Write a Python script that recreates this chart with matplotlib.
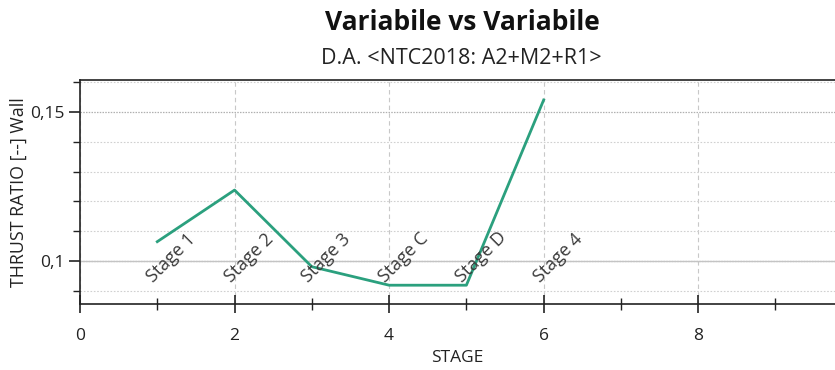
import matplotlib
matplotlib.use("Agg")
import matplotlib.pyplot as plt
from matplotlib.ticker import MultipleLocator, FuncFormatter

plt.rcParams['font.family'] = ['Open Sans', 'Noto Sans', 'DejaVu Sans']

stages = [1, 2, 3, 4, 5, 6]
stage_labels = ["Stage 1", "Stage 2", "Stage 3", "Stage C", "Stage D", "Stage 4"]
thrust_ratio = [0.1065, 0.1238, 0.0981, 0.0919, 0.0919, 0.1540]
reference_ratio = 0.1

title = "Variabile vs Variabile"
subtitle = "D.A. <NTC2018: A2+M2+R1>"
xlabel = "STAGE"
ylabel = "THRUST RATIO [--] Wall"

fig = plt.figure(figsize=(8.35, 3.7), dpi=100)
ax = fig.add_axes([80/835, 1 - 304/370, 1 - 80/835, (304 - 80)/370])

ax.plot(stages, thrust_ratio, color="#2ba07e", lw=2.0, zorder=3)

ax.set_xlim(0, 9.77)
ax.set_ylim(0.0856, 0.1607)

ax.xaxis.set_major_locator(MultipleLocator(2))
ax.xaxis.set_minor_locator(MultipleLocator(1))
ax.yaxis.set_major_locator(MultipleLocator(0.05))
ax.yaxis.set_minor_locator(MultipleLocator(0.01))
ax.yaxis.set_major_formatter(FuncFormatter(lambda v, p: ("%g" % round(v, 4)).replace(".", ",")))

ax.grid(which="major", axis="x", color="#c8c8c8", ls=(0, (4, 3)), lw=0.8)
ax.grid(which="major", axis="y", color="#b0b0b0", ls=(0, (1.2, 1.0)), lw=0.9)
ax.grid(which="minor", axis="y", color="#d0d0d0", ls=(0, (1.5, 1.5)), lw=0.8)
ax.axhline(reference_ratio, color="#c4c4c4", ls="-", lw=1.0, zorder=1)
ax.set_axisbelow(True)

ax.spines["right"].set_visible(False)
for s in ["left", "bottom", "top"]:
    ax.spines[s].set_color("#222222")
    ax.spines[s].set_linewidth(1.2)

ax.tick_params(axis="x", which="major", direction="inout", length=13, width=1.2, color="#222222",
               labelsize=12.5, pad=11, labelcolor="#222222")
ax.tick_params(axis="x", which="minor", direction="inout", length=8, width=1.0, color="#222222")
ax.tick_params(axis="y", which="major", direction="out", length=8, width=1.2, color="#222222",
               labelsize=12.5, pad=3, labelcolor="#222222")
ax.tick_params(axis="y", which="minor", direction="out", length=5, width=1.0, color="#222222")

for x, lab in zip(stages, stage_labels):
    ax.text(x - 0.05, 0.0926, lab, rotation=45, rotation_mode="anchor", ha="left", va="baseline",
            fontsize=13, color="#3a3a3a", zorder=4)

ax.set_xlabel(xlabel, fontsize=12.5, color="#222222", labelpad=4)
ax.set_ylabel(ylabel, fontsize=12.8, color="#222222", labelpad=2)

fig.text(462/835, 1 - 22/370, title, ha="center", va="center", fontsize=19, fontweight="bold", color="#111111")
fig.text(461/835, 1 - 58/370, subtitle, ha="center", va="center", fontsize=15.5, color="#222222")

fig.savefig("out.png", dpi=100)
